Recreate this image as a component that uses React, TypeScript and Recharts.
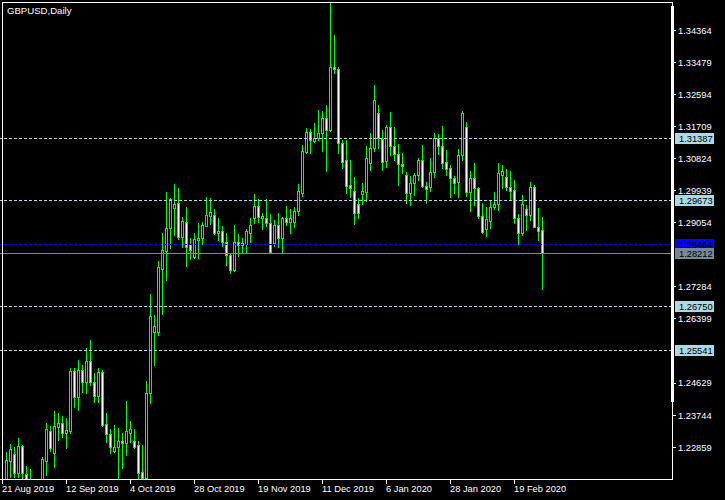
import React from "react";
import { ComposedChart, Bar, XAxis, YAxis, ReferenceLine } from "recharts";

// Daily OHLC, GBPUSD, 21 Aug 2019 .. 28 Feb 2020 (one entry per trading day)
const opens = [
  1.2135, 1.2140, 1.2249, 1.2267, 1.2214, 1.2290, 1.2211, 1.2170, 1.2160, 1.2095,
  1.2065, 1.2249, 1.2331, 1.2271, 1.2343, 1.2352, 1.2326, 1.2332, 1.2496, 1.2426,
  1.2499, 1.2467, 1.2523, 1.2465, 1.2428, 1.2494, 1.2349, 1.2322, 1.2277, 1.2286,
  1.2303, 1.2299, 1.2326, 1.2303, 1.2291, 1.2217, 1.2202, 1.2435, 1.2605, 1.2605,
  1.2778, 1.2828, 1.2890, 1.2947, 1.2959, 1.2867, 1.2908, 1.2847, 1.2810, 1.2858,
  1.2863, 1.2897, 1.2925, 1.2927, 1.2878, 1.2883, 1.2853, 1.2817, 1.2775, 1.2852,
  1.2844, 1.2847, 1.2878, 1.2919, 1.2952, 1.2919, 1.2919, 1.2904, 1.2850, 1.2899,
  1.2863, 1.2918, 1.2908, 1.2908, 1.2939, 1.2988, 1.3102, 1.3155, 1.3132, 1.3139,
  1.3152, 1.3194, 1.3161, 1.3334, 1.3329, 1.3126, 1.3078, 1.3009, 1.2994, 1.2957,
  1.2984, 1.2991, 1.3070, 1.3111, 1.3208, 1.3136, 1.3077, 1.3169, 1.3117, 1.3095,
  1.3068, 1.3037, 1.2987, 1.3014, 1.3037, 1.3079, 1.3007, 1.3005, 1.3046, 1.3139,
  1.3118, 1.3074, 1.3056, 1.3028, 1.3019, 1.3092, 1.3169, 1.2991, 1.3028, 1.3001,
  1.2925, 1.2887, 1.2911, 1.2950, 1.2956, 1.3037, 1.3031, 1.3003, 1.2996, 1.2918,
  1.2878, 1.2943, 1.2927, 1.3003, 1.2895, 1.2886,
];
const highs = [
  1.2166, 1.2273, 1.2295, 1.2288, 1.2312, 1.2292, 1.2234, 1.2225, 1.2185, 1.2130,
  1.2258, 1.2352, 1.2345, 1.2386, 1.2380, 1.2372, 1.2367, 1.2505, 1.2505, 1.2527,
  1.2513, 1.2559, 1.2582, 1.2492, 1.2504, 1.2499, 1.2380, 1.2336, 1.2347, 1.2338,
  1.2325, 1.2414, 1.2359, 1.2336, 1.2303, 1.2292, 1.2469, 1.2709, 1.2651, 1.2801,
  1.2878, 1.2990, 1.2974, 1.3012, 1.3001, 1.2922, 1.2948, 1.2863, 1.2876, 1.2906,
  1.2908, 1.2976, 1.2973, 1.2943, 1.2918, 1.2897, 1.2878, 1.2821, 1.2899, 1.2874,
  1.2863, 1.2887, 1.2918, 1.2985, 1.2970, 1.2932, 1.2970, 1.2930, 1.2913, 1.2933,
  1.2922, 1.2952, 1.2943, 1.2948, 1.3012, 1.3120, 1.3166, 1.3163, 1.3180, 1.3217,
  1.3214, 1.3230, 1.3513, 1.3424, 1.3336, 1.3134, 1.3134, 1.3079, 1.3033, 1.2973,
  1.3016, 1.3117, 1.3152, 1.3286, 1.3230, 1.3161, 1.3175, 1.3210, 1.3171, 1.3123,
  1.3099, 1.3046, 1.3035, 1.3044, 1.3083, 1.3120, 1.3019, 1.3083, 1.3152, 1.3150,
  1.3172, 1.3106, 1.3065, 1.3035, 1.3108, 1.3215, 1.3184, 1.3049, 1.3070, 1.3005,
  1.2959, 1.2948, 1.2966, 1.2990, 1.3070, 1.3065, 1.3054, 1.3048, 1.3023, 1.2930,
  1.2981, 1.2954, 1.3017, 1.3010, 1.2947, 1.2921,
];
const lows = [
  1.2105, 1.2130, 1.2205, 1.2205, 1.2205, 1.2185, 1.2160, 1.2150, 1.2080, 1.1960,
  1.2060, 1.2209, 1.2277, 1.2232, 1.2306, 1.2314, 1.2283, 1.2326, 1.2398, 1.2389,
  1.2439, 1.2437, 1.2458, 1.2412, 1.2412, 1.2345, 1.2301, 1.2269, 1.2274, 1.2202,
  1.2228, 1.2265, 1.2300, 1.2283, 1.2195, 1.2190, 1.2195, 1.2407, 1.2513, 1.2596,
  1.2654, 1.2748, 1.2835, 1.2872, 1.2861, 1.2839, 1.2786, 1.2805, 1.2807, 1.2807,
  1.2847, 1.2896, 1.2901, 1.2874, 1.2858, 1.2841, 1.2789, 1.2768, 1.2773, 1.2814,
  1.2823, 1.2823, 1.2853, 1.2904, 1.2908, 1.2887, 1.2896, 1.2821, 1.2841, 1.2838,
  1.2826, 1.2899, 1.2878, 1.2895, 1.2927, 1.2979, 1.3097, 1.3099, 1.3129, 1.3133,
  1.3104, 1.3049, 1.3160, 1.3320, 1.3099, 1.3057, 1.2988, 1.2977, 1.2902, 1.2918,
  1.2957, 1.2966, 1.3051, 1.3104, 1.3111, 1.3051, 1.3060, 1.3092, 1.3079, 1.3010,
  1.3042, 1.2961, 1.2955, 1.2982, 1.3023, 1.3003, 1.2961, 1.2994, 1.3033, 1.3095,
  1.3056, 1.3037, 1.2976, 1.2988, 1.2977, 1.3079, 1.2979, 1.2939, 1.2955, 1.2918,
  1.2876, 1.2869, 1.2890, 1.2943, 1.2941, 1.3001, 1.2996, 1.2968, 1.2906, 1.2847,
  1.2872, 1.2886, 1.2913, 1.2893, 1.2858, 1.2723,
];
const closes = [
  1.2150, 1.2251, 1.2281, 1.2216, 1.2290, 1.2214, 1.2170, 1.2160, 1.2095, 1.2065,
  1.2253, 1.2336, 1.2285, 1.2344, 1.2352, 1.2326, 1.2334, 1.2496, 1.2426, 1.2499,
  1.2467, 1.2523, 1.2467, 1.2428, 1.2494, 1.2347, 1.2322, 1.2286, 1.2287, 1.2303,
  1.2299, 1.2331, 1.2335, 1.2288, 1.2216, 1.2200, 1.2435, 1.2648, 1.2621, 1.2783,
  1.2830, 1.2890, 1.2970, 1.2958, 1.2867, 1.2910, 1.2839, 1.2830, 1.2860, 1.2863,
  1.2899, 1.2927, 1.2934, 1.2878, 1.2883, 1.2853, 1.2817, 1.2775, 1.2852, 1.2844,
  1.2849, 1.2883, 1.2899, 1.2952, 1.2922, 1.2924, 1.2904, 1.2826, 1.2899, 1.2863,
  1.2918, 1.2908, 1.2918, 1.2937, 1.2992, 1.3104, 1.3155, 1.3134, 1.3139, 1.3152,
  1.3194, 1.3161, 1.3334, 1.3329, 1.3126, 1.3074, 1.3008, 1.3001, 1.2933, 1.2932,
  1.2993, 1.3083, 1.3111, 1.3244, 1.3139, 1.3074, 1.3169, 1.3118, 1.3094, 1.3067,
  1.3063, 1.2987, 1.3014, 1.3038, 1.3079, 1.3008, 1.2998, 1.3046, 1.3139, 1.3118,
  1.3070, 1.3054, 1.3028, 1.3016, 1.3092, 1.3208, 1.2991, 1.3028, 1.3001, 1.2925,
  1.2881, 1.2916, 1.2948, 1.2957, 1.3042, 1.3048, 1.3003, 1.2994, 1.2918, 1.2878,
  1.2956, 1.2927, 1.3003, 1.2895, 1.2884, 1.28212,
];

const tickBars = [0, 16, 32, 48, 64, 80, 96, 112, 128];
const tickLabels = [
  "21 Aug 2019", "12 Sep 2019", "4 Oct 2019", "28 Oct 2019", "19 Nov 2019",
  "11 Dec 2019", "6 Jan 2020", "28 Jan 2020", "19 Feb 2020",
];
const priceTicks = [
  1.22859, 1.23744, 1.24629, 1.26399, 1.27284, 1.29054,
  1.29939, 1.30824, 1.31709, 1.32594, 1.33479, 1.34364,
];
const levelLines = [1.31387, 1.29673, 1.2675, 1.25541];
const pendingLine = 1.28464;
const bidLine = 1.28212;
const priceMin = 1.21984;
const priceMax = 1.35146;
const emptySlots = 32; // chart shift on the right
const title = "GBPUSD,Daily";

const GREEN = "#00FF00";
const FONT = "'Liberation Sans', Arial, sans-serif";
const FS = 9.3;

const data = [
  ...opens.map((o, i) => ({
    idx: i,
    range: [lows[i], highs[i]],
    o,
    h: highs[i],
    l: lows[i],
    c: closes[i],
  })),
  ...Array.from({ length: emptySlots }, (_, k) => ({ idx: opens.length + k, range: null })),
];

const Candle = (props: any) => {
  const { x, y, width, height, payload } = props;
  if (!payload || payload.o == null || y == null || height == null || isNaN(y)) return null;
  const top = Math.min(y, y + height);
  const span = Math.abs(height);
  const { o, h, l, c } = payload;
  const py = (v: number) => top + ((h - v) / (h - l)) * span;
  const cx = Math.floor(x + width / 2);
  const yH = Math.round(py(h));
  const yL = Math.round(py(l));
  const bTop = Math.round(py(Math.max(o, c)));
  const bBot = Math.round(py(Math.min(o, c)));
  const bull = c >= o;
  return (
    <g>
      <rect x={cx} y={yH} width={1} height={yL - yH + 1} fill={GREEN} />
      <rect x={cx - 1} y={bTop} width={3} height={bBot - bTop + 1} fill={GREEN} />
      {bBot - bTop >= 2 && (
        <rect x={cx} y={bTop + 1} width={1} height={bBot - bTop - 1} fill={bull ? "#000000" : "#FFFFFF"} />
      )}
    </g>
  );
};

const XTick = (props: any) => {
  const { x, y, payload } = props;
  const k = tickBars.indexOf(payload.value);
  if (k < 0) return null;
  const px = Math.floor(x) + 0.5;
  return (
    <g>
      <line x1={px} x2={px} y1={y - 6} y2={y - 1} stroke="#FFFFFF" strokeWidth={1} />
      <text x={Math.floor(x)} y={y} dy="0.72em" fill="#FFFFFF" fontFamily={FONT} fontSize={FS} textAnchor="start">
        {tickLabels[k]}
      </text>
    </g>
  );
};

const YTick = (props: any) => {
  const { x, y, payload } = props;
  const py = Math.floor(y) + 0.5;
  return (
    <g>
      <line x1={x - 6} x2={x - 2} y1={py} y2={py} stroke="#FFFFFF" strokeWidth={1} />
      <text x={x} y={y} dy="0.36em" fill="#FFFFFF" fontFamily={FONT} fontSize={FS} textAnchor="start">
        {Number(payload.value).toFixed(5)}
      </text>
    </g>
  );
};

const lineShape = (color: string, dash?: string) => (p: any) => {
  const yy = Math.floor(p.y1) + 0.5;
  return <line x1={p.x1} x2={p.x2} y1={yy} y2={yy} stroke={color} strokeWidth={1} strokeDasharray={dash} />;
};

const priceLabel = (value: number, bg: string) => (p: any) => {
  const vb = p.viewBox || {};
  const right = (vb.x || 0) + (vb.width || 0);
  const yy = Math.floor(vb.y || 0);
  return (
    <g>
      <rect x={right + 3} y={yy - 5} width={39} height={11} fill={bg} />
      <text x={right + 7} y={yy + 0.5} dy="0.36em" fill="#000000" fontFamily={FONT} fontSize={FS} textAnchor="start">
        {value.toFixed(5)}
      </text>
    </g>
  );
};

export default function App() {
  return (
    <div style={{ position: "absolute", left: 0, top: 0, width: 725, height: 500, background: "#000000" }}>
      <ComposedChart width={725} height={500} data={data} margin={{ top: 2, right: 0, bottom: 0, left: 0 }}>
        <XAxis
          dataKey="idx"
          type="category"
          ticks={tickBars}
          interval={0}
          height={21}
          tickSize={4}
          tickMargin={2}
          axisLine={false}
          tickLine={false}
          tick={<XTick />}
        />
        <YAxis
          type="number"
          orientation="right"
          domain={[priceMin, priceMax]}
          allowDataOverflow
          ticks={priceTicks}
          interval={0}
          width={53}
          tickSize={4}
          tickMargin={2}
          axisLine={false}
          tickLine={false}
          tick={<YTick />}
        />
        {levelLines.map((v) => (
          <ReferenceLine
            key={v}
            y={v}
            stroke="#ADD8E6"
            shape={lineShape("#ADD8E6", "3 2")}
            label={priceLabel(v, "#ADD8E6")}
          />
        ))}
        <ReferenceLine y={pendingLine} stroke="#0000FF" shape={lineShape("#0000FF", "3 2")} label={priceLabel(pendingLine, "#0000FF")} />
        <ReferenceLine y={bidLine} stroke="#778899" shape={lineShape("#778899")} label={priceLabel(bidLine, "#778899")} />
        <Bar dataKey="range" barSize={3} isAnimationActive={false} shape={<Candle />} />
      </ComposedChart>
      <svg width={725} height={500} style={{ position: "absolute", left: 0, top: 0, pointerEvents: "none" }}>
        <rect x={2} y={2} width={671} height={1} fill="#FFFFFF" />
        <rect x={2} y={2} width={1} height={478} fill="#FFFFFF" />
        <rect x={0} y={479} width={673} height={1} fill="#FFFFFF" />
        <rect x={672} y={2} width={1} height={478} fill="#FFFFFF" />
        <rect x={671} y={6} width={3} height={396} fill="#FFFFFF" />
        <text x={7} y={14} fill="#FFFFFF" fontFamily={FONT} fontSize={FS + 0.3}>
          {title}
        </text>
      </svg>
    </div>
  );
}
